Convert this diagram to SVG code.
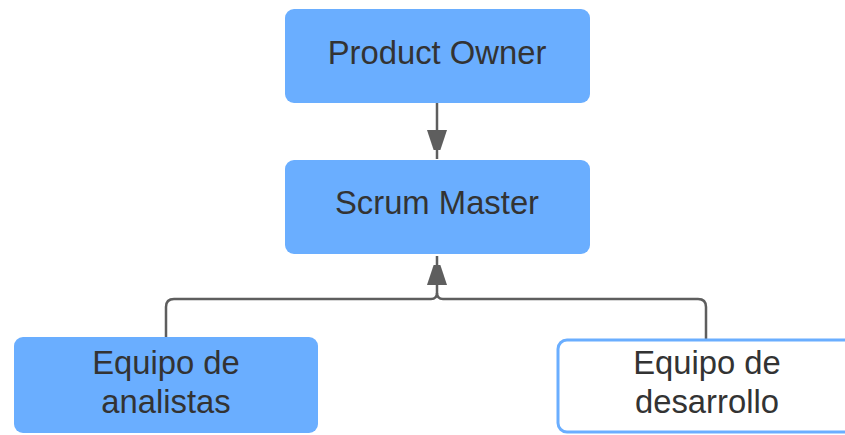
<svg xmlns="http://www.w3.org/2000/svg" width="845" height="435" viewBox="0 0 845 435">
<style>
.box{fill:#6aaeff;}
.outline{fill:#ffffff;stroke:#6aaeff;stroke-width:3;}
.lbl{font-family:"Liberation Sans",Arial,sans-serif;font-size:32.8px;fill:#333333;text-anchor:middle;}
.conn{fill:none;stroke:#5e5e5e;stroke-width:2.5;}
</style>
<defs>
<marker id="arr" markerUnits="userSpaceOnUse" markerWidth="20" markerHeight="30" viewBox="0 0 18 27" refX="26" refY="9" orient="auto">
<path d="M0 0 L27 9 L0 18 Z" fill="#5e5e5e"/>
</marker>
</defs>
<rect width="845" height="435" fill="#ffffff"/>
<g id="connectors">
<path class="conn" d="M437 103 V159" marker-end="url(#arr)"/>
<path class="conn" d="M166 337 V307 Q166 299 174 299 H431 Q437 299 437 293 V256" marker-end="url(#arr)"/>
<path class="conn" d="M706 340 V307 Q706 299 698 299 H443 Q437 299 437 293"/>
</g>
<g id="product-owner">
<rect class="box" x="285" y="9" width="305" height="94" rx="9"/>
<text class="lbl" x="437" y="64">Product Owner</text>
</g>
<g id="scrum-master">
<rect class="box" x="285" y="160" width="305" height="94" rx="9"/>
<text class="lbl" x="437" y="214">Scrum Master</text>
</g>
<g id="equipo-analistas">
<rect class="box" x="14" y="337" width="304" height="96" rx="9"/>
<text class="lbl" x="166" y="374">Equipo de</text>
<text class="lbl" x="166" y="413">analistas</text>
</g>
<g id="equipo-desarrollo">
<rect class="outline" x="558" y="340" width="300" height="92" rx="9"/>
<text class="lbl" x="707" y="374">Equipo de</text>
<text class="lbl" x="707" y="413">desarrollo</text>
</g>
</svg>
